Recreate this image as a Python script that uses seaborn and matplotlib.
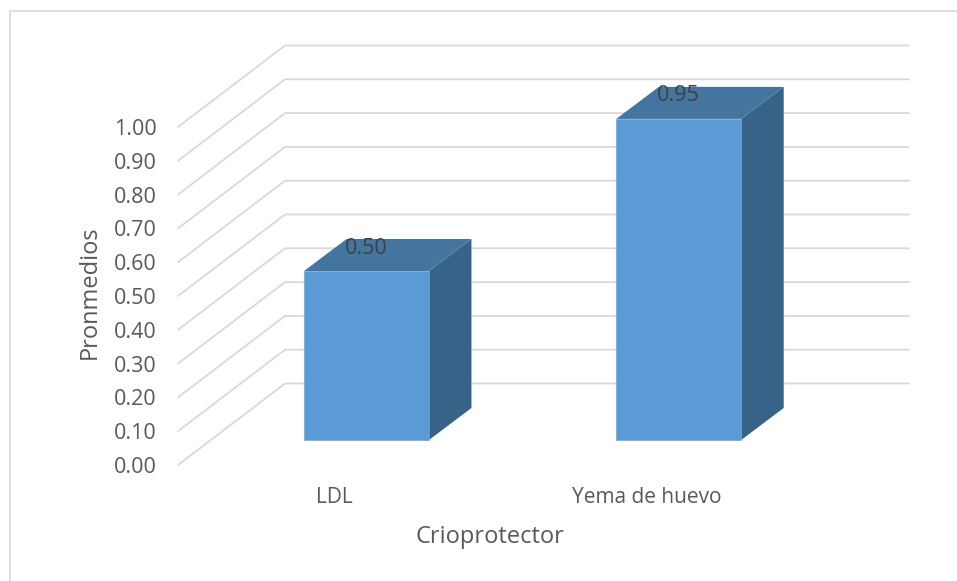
import matplotlib
matplotlib.use("Agg")
import matplotlib.pyplot as plt
from matplotlib.lines import Line2D
import pandas as pd
import seaborn as sns

categories = ["LDL", "Yema de huevo"]
values = [0.50, 0.95]
tick_values = [0.00, 0.10, 0.20, 0.30, 0.40, 0.50, 0.60, 0.70, 0.80, 0.90, 1.00]
tick_labels = ["0.00", "0.10", "0.20", "0.30", "0.40", "0.50", "0.60", "0.70", "0.80", "0.90", "1.00"]

W, H = 957, 581

sns.set_theme(style="white")
plt.rcParams["font.family"] = ["Open Sans", "DejaVu Sans"]

fig = plt.figure(figsize=(W / 100, H / 100), dpi=100)
# axes box runs from the front left of the floor to the back right of the wall
left, right, top, bottom = 178, 909, 46, 465
ax = fig.add_axes([left / W, 1 - bottom / H, (right - left) / W, (bottom - top) / H])

df = pd.DataFrame({"Crioprotector": categories, "Promedio": values})
sns.barplot(data=df, x="Crioprotector", y="Promedio", color="#5b9bd5", saturation=1,
            width=0.4, ax=ax, zorder=3, edgecolor="#6ea7dc", linewidth=0.5)

# pixel scale of the front plane
x_unit = 312.25
y_unit = 338.0
ax.set_xlim((left - 366.5) / x_unit, (right - 366.5) / x_unit)
ax.set_ylim((440 - bottom) / y_unit, (440 - top) / y_unit)

# depth of the wall and of the bars, in data units
wall_dx = 107 / x_unit
wall_dy = 81.5 / y_unit
bar_dx = 42.5 / x_unit
bar_dy = 32 / y_unit
base = (440 - bottom) / y_unit
x0 = ax.get_xlim()[0]
x1 = ax.get_xlim()[1]

# Gridlines: slanted side wall, then back wall
for v in tick_values:
    ax.plot([x0, x0 + wall_dx, x1], [base + v, base + v + wall_dy, base + v + wall_dy],
            color="#d9d9d9", lw=1.3, zorder=1, clip_on=False, solid_joinstyle="miter")

# Side and top faces of the bars
for bar, val in zip(ax.patches, values):
    xa = bar.get_x()
    xb = xa + bar.get_width()
    ax.fill([xb, xb + bar_dx, xb + bar_dx, xb], [0, bar_dy, val + bar_dy, val],
            color="#386388", lw=0, zorder=2.5, clip_on=False)
    ax.fill([xa, xb, xb + bar_dx, xa + bar_dx], [val, val, val + bar_dy, val + bar_dy],
            color="#44759f", lw=0, zorder=2.5, clip_on=False)
    ax.text(xa + bar.get_width() / 2, val + 23 / y_unit, f"{val:.2f}", ha="center", va="center",
            color="#404040", fontsize=15.5, zorder=5)

# Axes
sns.despine(ax=ax, left=True, bottom=True)
ax.set_yticks([base + v for v in tick_values])
ax.set_yticklabels(tick_labels)
ax.set_xticks([c - 32 / x_unit for c in range(len(categories))])
ax.set_xticklabels(categories)
ax.tick_params(axis="y", length=0, pad=15.5, labelsize=15.5, labelcolor="#595959")
ax.tick_params(axis="x", length=0, pad=15.5, labelsize=15, labelcolor="#595959")
ax.set_xlabel("Crioprotector", fontsize=17, color="#595959")
ax.set_ylabel("Pronmedios", fontsize=17, color="#595959")
ax.xaxis.set_label_coords((490 - left) / (right - left), -(537 - bottom) / (bottom - top), transform=ax.transAxes)
ax.xaxis.label.set_verticalalignment("center")
ax.yaxis.set_label_coords((90 - left) / (right - left), (bottom - 292) / (bottom - top), transform=ax.transAxes)
ax.yaxis.label.set_verticalalignment("center")

# Chart frame, only top and left are inside the crop
fig.add_artist(Line2D([10 / W, 10 / W], [0, 1 - 10.5 / H], color="#d9d9d9", lw=1.2))
fig.add_artist(Line2D([10 / W, 1], [1 - 10.5 / H, 1 - 10.5 / H], color="#d9d9d9", lw=1.2))

fig.savefig("out.png", dpi=100)
